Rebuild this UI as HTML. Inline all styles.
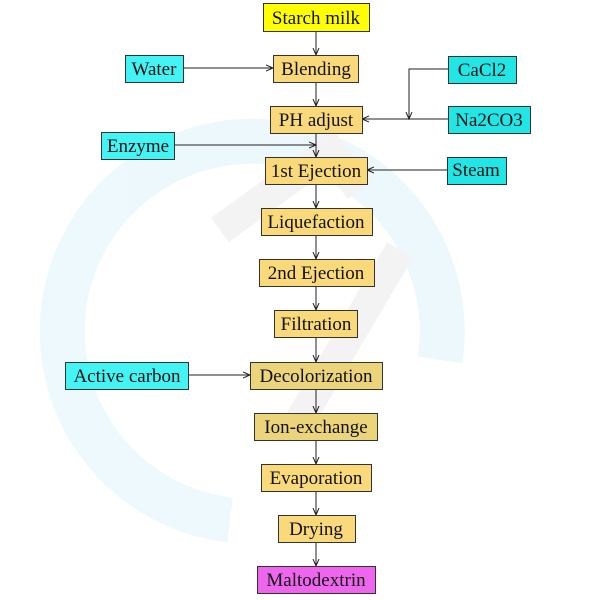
<!DOCTYPE html>
<html><head><style>html,body{margin:0;padding:0;background:#fff}svg{display:block}</style></head>
<body>
<svg width="600" height="600" viewBox="0 0 600 600" xmlns="http://www.w3.org/2000/svg" font-family="Liberation Serif, serif" font-size="19">
<defs>
<marker id="a" markerWidth="8" markerHeight="8" refX="7" refY="4" orient="auto" markerUnits="userSpaceOnUse">
<path d="M0,1 L7,4 L0,7" fill="none" stroke="#222" stroke-width="1"/></marker>
</defs>
<g fill="none" opacity="0.25">
<path d="M230,520 A190,190 0 1,1 440,360" stroke="#b9e6f5" stroke-width="45"/>
<path d="M220,230 L330,150 L360,190" stroke="#d0d0d0" stroke-width="30"/>
<path d="M300,420 L400,250" stroke="#d0d0d0" stroke-width="30"/>
</g>
<g stroke="#222" stroke-width="1" fill="none" marker-end="url(#a)">
<line x1="316" y1="31" x2="316" y2="55"/>
<line x1="183" y1="68" x2="273" y2="68"/>
<line x1="316" y1="82" x2="316" y2="106"/>
<line x1="448" y1="119" x2="362" y2="119"/>
<polyline points="448,69 409,69 409,119" />
<line x1="174" y1="145" x2="316" y2="145"/>
<line x1="316" y1="133" x2="316" y2="157"/>
<line x1="447" y1="170" x2="367" y2="170"/>
<line x1="316" y1="184" x2="316" y2="208"/>
<line x1="316" y1="235" x2="316" y2="259"/>
<line x1="316" y1="286" x2="316" y2="310"/>
<line x1="316" y1="337" x2="316" y2="362"/>
<line x1="188" y1="375" x2="250" y2="375"/>
<line x1="316" y1="389" x2="316" y2="413"/>
<line x1="316" y1="440" x2="316" y2="464"/>
<line x1="316" y1="491" x2="316" y2="515"/>
<line x1="316" y1="542" x2="316" y2="566"/>
</g>
<g stroke="#333" stroke-width="1">
<rect x="263.5" y="3.5" width="106" height="28" fill="#ffff00"/>
<rect x="273.5" y="55.5" width="85" height="27" fill="#fad97a"/>
<rect x="125.5" y="55.5" width="58" height="27" fill="#44f4f4"/>
<rect x="270.5" y="106.5" width="92" height="27" fill="#fad97a"/>
<rect x="448.5" y="56.5" width="68" height="27" fill="#22e6e6"/>
<rect x="448.5" y="106.5" width="82" height="27" fill="#22e6e6"/>
<rect x="101.5" y="132.5" width="73" height="27" fill="#44f4f4"/>
<rect x="265.5" y="157.5" width="102" height="27" fill="#fad97a"/>
<rect x="447.5" y="157.5" width="59" height="27" fill="#22e6e6"/>
<rect x="261.5" y="208.5" width="111" height="27" fill="#fad97a"/>
<rect x="259.5" y="259.5" width="115" height="27" fill="#fad97a"/>
<rect x="274.5" y="310.5" width="83" height="27" fill="#fad97a"/>
<rect x="65.5" y="362.5" width="123" height="27" fill="#44f4f4"/>
<rect x="250.5" y="362.5" width="132" height="27" fill="#ecd47a"/>
<rect x="254.5" y="413.5" width="123" height="27" fill="#ecd47a"/>
<rect x="261.5" y="464.5" width="110" height="27" fill="#fad97a"/>
<rect x="278.5" y="515.5" width="77" height="27" fill="#fad97a"/>
<rect x="257.5" y="566.5" width="118" height="27" fill="#ee66ee"/>
</g>
<g fill="#111" text-anchor="middle">
<text x="316" y="24">Starch milk</text>
<text x="316" y="75">Blending</text>
<text x="154" y="75">Water</text>
<text x="316" y="126">PH adjust</text>
<text x="482" y="76">CaCl2</text>
<text x="489" y="126">Na2CO3</text>
<text x="138" y="152">Enzyme</text>
<text x="316" y="177">1st Ejection</text>
<text x="476" y="176">Steam</text>
<text x="316" y="228">Liquefaction</text>
<text x="316" y="279">2nd Ejection</text>
<text x="316" y="330">Filtration</text>
<text x="127" y="382">Active carbon</text>
<text x="316" y="382">Decolorization</text>
<text x="316" y="433">Ion-exchange</text>
<text x="316" y="484">Evaporation</text>
<text x="316" y="535">Drying</text>
<text x="316" y="586">Maltodextrin</text>
</g>
</svg>
</body></html>
